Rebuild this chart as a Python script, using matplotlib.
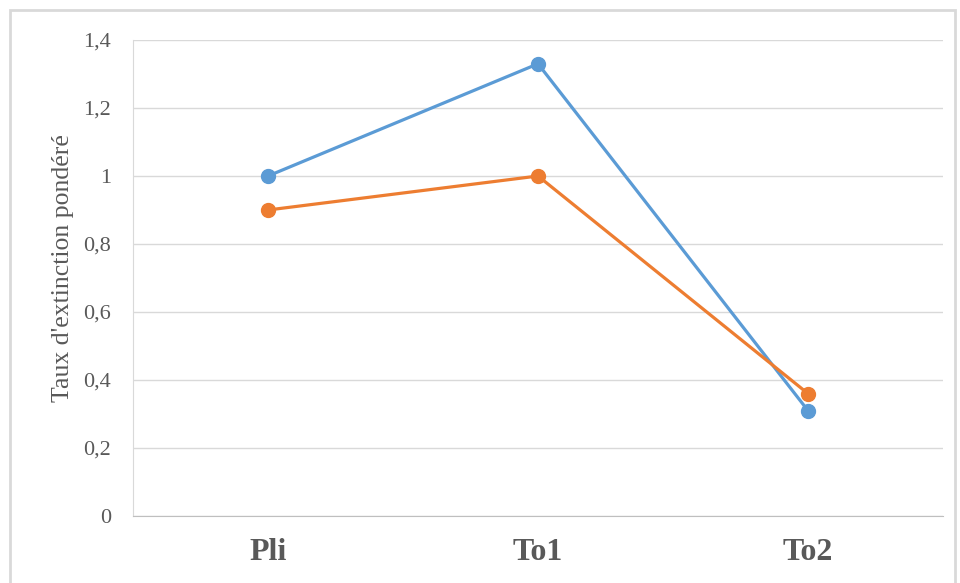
import matplotlib
matplotlib.use('Agg')
import matplotlib.pyplot as plt
from matplotlib.patches import Rectangle
from matplotlib.ticker import FuncFormatter

categories = ['Pli', 'To1', 'To2']
serie_bleue = [1.0, 1.33, 0.31]
serie_orange = [0.9, 1.0, 0.36]
yticks = [0, 0.2, 0.4, 0.6, 0.8, 1.0, 1.2, 1.4]

plt.rcParams['font.family'] = ['Liberation Serif', 'DejaVu Serif']
gris = '#595959'

fig = plt.figure(figsize=(9.6, 5.83), dpi=100)
ax = fig.add_axes([133/960, 1-516/583, 810/960, 476/583])

# cadre du graphique
fig.patches.append(Rectangle((10/960, -0.01), 945/960, 1-10/583 + 0.01,
                             transform=fig.transFigure, fill=False,
                             edgecolor='#D9D9D9', linewidth=2))

x = range(len(categories))
ax.plot(x, serie_bleue, color='#5B9BD5', linewidth=2.3, marker='o', markersize=10)
ax.plot(x, serie_orange, color='#ED7D31', linewidth=2.3, marker='o', markersize=10)

ax.set_xlim(-0.5, 2.5)
ax.set_ylim(0, 1.4)
ax.set_yticks(yticks)
ax.yaxis.set_major_formatter(FuncFormatter(lambda v, p: ('%g' % round(v, 1)).replace('.', ',')))
ax.set_xticks(list(x))
ax.set_xticklabels(categories, fontsize=23, fontweight='bold', color=gris)
ax.tick_params(axis='y', labelsize=16, labelcolor=gris, length=0, pad=16)
ax.tick_params(axis='x', length=0, pad=16)

ax.grid(axis='y', color='#D9D9D9', linewidth=1)
ax.set_axisbelow(True)
for s in ['top', 'right']:
    ax.spines[s].set_visible(False)
ax.spines['left'].set_color('#D9D9D9')
ax.spines['bottom'].set_color('#BFBFBF')

ax.set_ylabel("Taux d'extinction pondéré", fontsize=18.5, color=gris)
ax.yaxis.set_label_coords(-0.073, 0.52)

fig.savefig('out.png', dpi=100)
